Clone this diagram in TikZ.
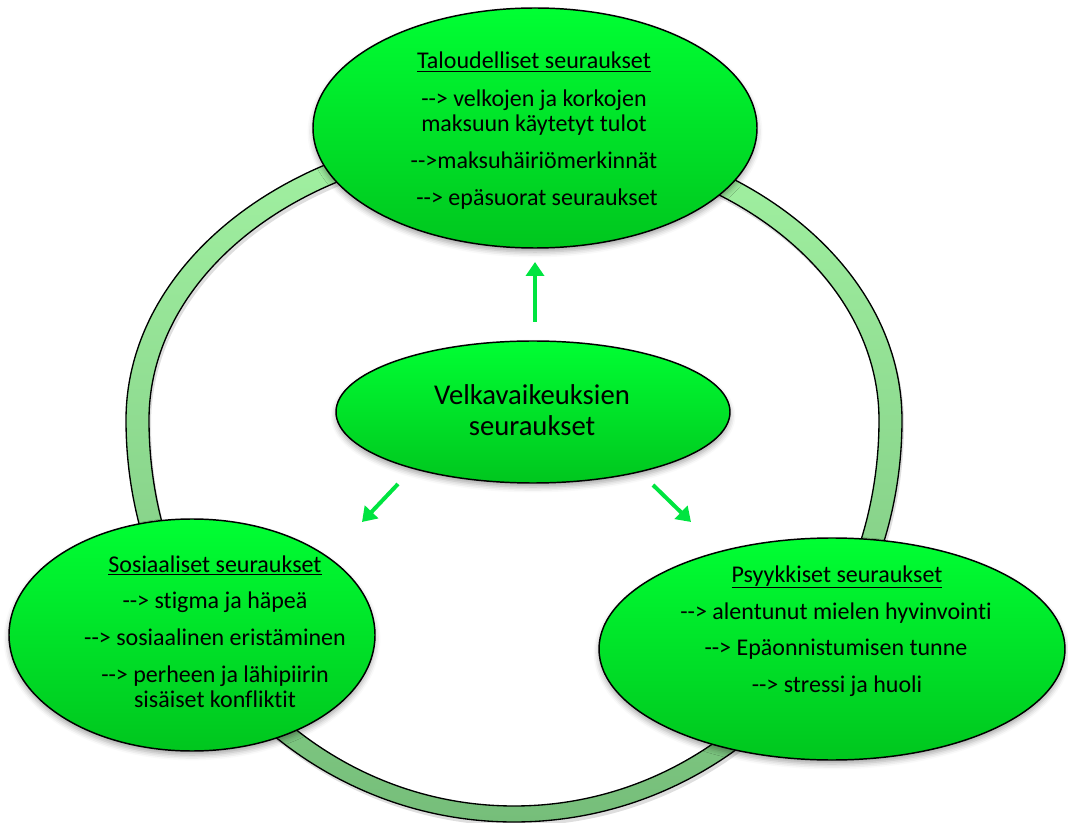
\documentclass[tikz,border=0pt]{standalone}
\usepackage{fontspec}
\setmainfont[Ligatures=NoCommon]{Carlito}
\usetikzlibrary{shapes.geometric,arrows.meta,shadows.blur}
\definecolor{elltop}{RGB}{0,255,51}
\definecolor{ellbot}{RGB}{0,198,30}
\definecolor{ringtop}{RGB}{162,242,162}
\definecolor{ringbot}{RGB}{118,190,122}
\definecolor{arrowgreen}{RGB}{0,228,64}
\newcommand{\arr}{-{}-{}>}
\tikzset{
  bubble/.style={ellipse, draw=black, line width=1.1pt, top color=elltop, bottom color=ellbot,
    inner sep=0pt, blur shadow={shadow xshift=0pt, shadow yshift=-3pt, shadow blur radius=4pt, shadow opacity=35}},
  txt/.style={anchor=base, font=\fontsize{18}{20}\selectfont, inner sep=0pt},
  bigtxt/.style={anchor=base, font=\fontsize{21.5}{24}\selectfont, inner sep=0pt},
  garrow/.style={draw=arrowgreen, line width=3pt, -{Triangle[length=10.5pt,width=13.5pt]}},
  ringstyle/.style={draw=black, line width=1pt, even odd rule, top color=ringtop, bottom color=ringbot},
}
\begin{document}
\begin{tikzpicture}[x=0.75pt,y=-0.75pt]
\useasboundingbox (0,0) rectangle (1068,823);
% ring shadow
\path[fill=black, opacity=0.13, even odd rule, shift={(2,4)}]
  (126,420) arc[start angle=180,end angle=360,x radius=388,y radius=292]
            arc[start angle=0,end angle=180,x radius=388,y radius=402] -- cycle
  (149,420) arc[start angle=180,end angle=360,x radius=365,y radius=272]
            arc[start angle=0,end angle=180,x radius=365,y radius=386] -- cycle;
% ring
\path[ringstyle]
  (126,420) arc[start angle=180,end angle=360,x radius=388,y radius=292]
            arc[start angle=0,end angle=180,x radius=388,y radius=402] -- cycle
  (149,420) arc[start angle=180,end angle=360,x radius=365,y radius=272]
            arc[start angle=0,end angle=180,x radius=365,y radius=386] -- cycle;
% ellipses
\node[bubble, minimum width=333pt, minimum height=180pt] (top) at (535,128) {};
\node[bubble, minimum width=295.5pt, minimum height=106.5pt] (mid) at (533,412) {};
\node[bubble, minimum width=274.5pt, minimum height=174pt] (left) at (192,635) {};
\node[bubble, minimum width=349.5pt, minimum height=166.5pt] (right) at (832,649) {};
% arrows
\coordinate (upS) at (535,322);
\coordinate (upE) at (535,262);
\coordinate (lS) at (398,484);
\coordinate (lE) at (362,522);
\coordinate (rS) at (653,485);
\coordinate (rE) at (691,522);
\draw[garrow] (upS) -- (upE);
\draw[garrow] (lS) -- (lE);
\draw[garrow] (rS) -- (rE);
% texts
\node[bigtxt] (m1) at (532,405) {Velkavaikeuksien};
\node[bigtxt] (m2) at (532,436) {seuraukset};
\node[txt] (t1) at (534,69) {\underline{Taloudelliset seuraukset}};
\node[txt] (t2) at (534,107) {\arr{} velkojen ja korkojen};
\node[txt] (t3) at (534,132) {maksuun käytetyt tulot};
\node[txt] (t4) at (534,169) {\arr{}maksuhäiriömerkinnät};
\node[txt] (t5) at (537,206) {\arr{} epäsuorat seuraukset};
\node[txt] (l1) at (215,572) {\underline{Sosiaaliset seuraukset}};
\node[txt] (l2) at (215,609) {\arr{} stigma ja häpeä};
\node[txt] (l3) at (215,645) {\arr{} sosiaalinen eristäminen};
\node[txt] (l4) at (215,682) {\arr{} perheen ja lähipiirin};
\node[txt] (l5) at (215,707) {sisäiset konfliktit};
\node[txt] (r1) at (837,582) {\underline{Psyykkiset seuraukset}};
\node[txt] (r2) at (836,619) {\arr{} alentunut mielen hyvinvointi};
\node[txt] (r3) at (836,655) {\arr{} Epäonnistumisen tunne};
\node[txt] (r4) at (837,692) {\arr{} stressi ja huoli};
\end{tikzpicture}
\end{document}
